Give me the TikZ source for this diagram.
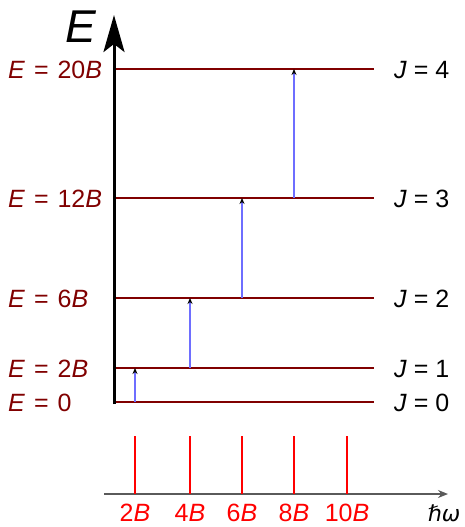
\documentclass[tikz,border=0pt]{standalone}
\usepackage{fontspec}
\setmainfont{Liberation Sans}
\newfontfamily\dejavu{DejaVu Sans}
\usetikzlibrary{arrows.meta, positioning}
\definecolor{levelred}{RGB}{128,0,0}
\definecolor{transblue}{RGB}{110,110,255}
\definecolor{axisgray}{RGB}{90,90,90}

\begin{document}
\begin{tikzpicture}[x=1pt, y=-1pt,
    level/.style={levelred, line width=2pt},
    trans/.style={transblue, line width=1.2pt, -{Stealth[black, length=6pt, width=5pt]}},
    specline/.style={red, line width=2pt},
    elabel/.style={levelred, anchor=base west, inner sep=0pt, font=\fontsize{25}{28}\selectfont},
    jlabel/.style={black, anchor=base west, inner sep=0pt, font=\fontsize{25}{28}\selectfont},
    freq/.style={red, anchor=base, inner sep=0pt, font=\fontsize{25}{28}\selectfont}]
    \useasboundingbox (0,0) rectangle (464,527);
    % energy axis
    \coordinate (origin) at (114,404);
    \coordinate (top) at (114,15);
    \draw[line width=3pt, -{Stealth[length=37pt, width=21pt, inset=8pt]}] (origin) -- (top);
    \node[inner sep=0pt, font=\fontsize{46}{50}\selectfont] (Elab) at (81,27) {\textit{E}};
    % rotational levels
    \foreach \j/\y/\e in {0/402/0, 1/368/2\textit{B}, 2/298/6\textit{B}, 3/198/12\textit{B}, 4/69/20\textit{B}}{
        \coordinate (L\j) at (116,\y);
        \coordinate (R\j) at (374,\y);
        \draw[level] (L\j) -- (R\j);
        \node[elabel] (E\j) at (8,\y+9) {\textit{E}\hspace{2pt} = \hspace{2pt}\e};
        \node[jlabel] (J\j) at (394,\y+9) {\textit{J} = \j};
    }
    % spectrum axis
    \coordinate (w0) at (104,494);
    \coordinate (w1) at (448,494);
    \draw[axisgray, line width=1.5pt, -{Stealth[length=10pt, width=8pt]}] (w0) -- (w1);
    \node[inner sep=0pt, anchor=base, font=\dejavu\fontsize{22}{26}\selectfont] (hw) at (444,521) {\textit{ℏω}};
    % spectral lines
    \foreach \i/\x/\f in {1/135/2, 2/190/4, 3/242/6, 4/294/8, 5/347/10}{
        \coordinate (s\i) at (\x,436);
        \draw[specline] (s\i) -- (s\i |- w0);
        \node[freq] (f\i) at (\x,521) {\f\textit{B}};
    }
    % transitions
    \draw[trans] (s1 |- L0) -- (s1 |- L1);
    \draw[trans] (s2 |- L1) -- (s2 |- L2);
    \draw[trans] (s3 |- L2) -- (s3 |- L3);
    \draw[trans] (s4 |- L3) -- (s4 |- L4);
\end{tikzpicture}
\end{document}
